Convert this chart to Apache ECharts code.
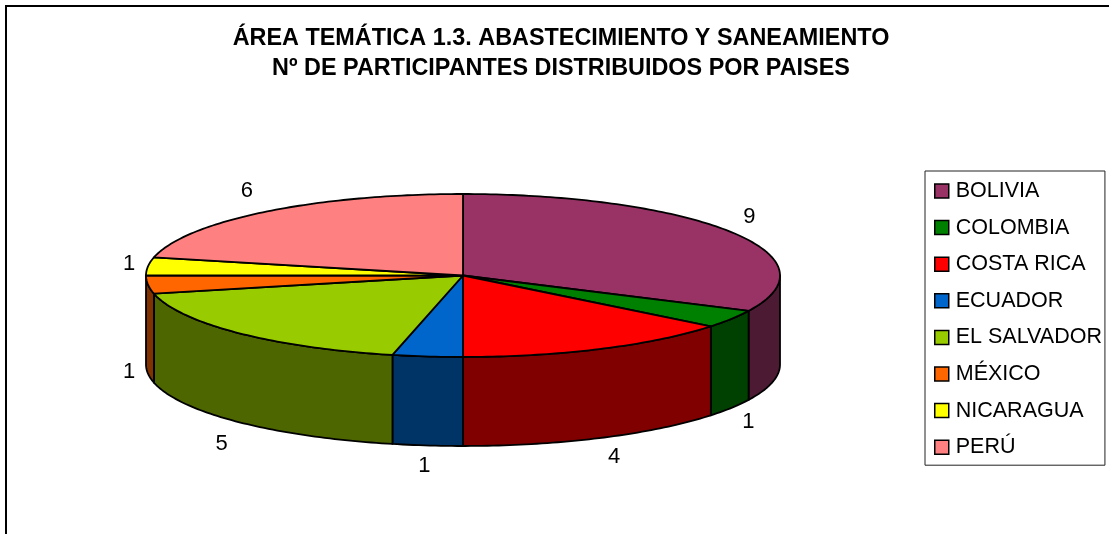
<!DOCTYPE html>
<html>
<head>
<meta charset="utf-8">
<style>
    html, body {margin: 0; padding: 0; background: #fff;}
    #pieChart {width: 1109px; height: 534px;}
</style>
<script src="https://cdn.jsdelivr.net/npm/echarts@6/dist/echarts.min.js"></script>
</head>
<body>
<div id="pieChart"></div>
<script>
    var countries = ['BOLIVIA', 'COLOMBIA', 'COSTA RICA', 'ECUADOR', 'EL SALVADOR', 'MÉXICO', 'NICARAGUA', 'PERÚ'];
    var participants = [9, 1, 4, 1, 5, 1, 1, 6];
    var topColors = ['#993366', '#008000', '#FF0000', '#0066CC', '#99CC00', '#FF6600', '#FFFF00', '#FF8080'];
    var sideColors = ['#4D1A33', '#004000', '#800000', '#003366', '#4D6600', '#803300', '#808000', '#804040'];
    var titleLines = ['ÁREA TEMÁTICA 1.3. ABASTECIMIENTO Y SANEAMIENTO', 'Nº DE PARTICIPANTES DISTRIBUIDOS POR PAISES'];

    // tilted disc
    var cx = 463, cy = 275.5, rx = 317, ry = 81.5, depth = 89;
    // small hand corrections for the value labels
    var labelShift = [[1, -3], [0, 2], [5, -1], [-1, -1], [-3, 6], [1, -4], [1, 0], [-6, -4]];
    var total = participants.reduce(function (a, b) { return a + b; }, 0);

    function rimPoint(deg, dy) {
        var t = deg * Math.PI / 180;
        return [cx + rx * Math.sin(t), cy - ry * Math.cos(t) + (dy || 0)];
    }

    function arc(from, to, dy) {
        var pts = [];
        for (var d = from; d < to; d += 1) {
            pts.push(rimPoint(d, dy));
        }
        pts.push(rimPoint(to, dy));
        return pts;
    }

    function renderSlice(index) {
        var before = participants.slice(0, index).reduce(function (a, b) { return a + b; }, 0);
        return function (params, api) {
            var value = api.value(0);
            var start = before / total * 360;
            var end = (before + value) / total * 360;
            var mid = (start + end) / 2;
            var lineStyle = {stroke: '#000', lineWidth: 1.8, lineJoin: 'round'};
            var children = [];

            // only the front half of the wall shows
            var wallFrom = Math.max(start, 90), wallTo = Math.min(end, 270);
            if (wallFrom < wallTo) {
                var upper = arc(wallFrom, wallTo, 0);
                var lower = arc(wallFrom, wallTo, depth).reverse();
                children.push({
                    type: 'polygon',
                    shape: {points: upper.concat(lower)},
                    style: Object.assign({fill: sideColors[index]}, lineStyle)
                });
            }

            children.push({
                type: 'polygon',
                shape: {points: [[cx, cy]].concat(arc(start, end, 0))},
                style: Object.assign({fill: topColors[index]}, lineStyle)
            });

            var t = mid * Math.PI / 180;
            var front = mid > 90 && mid < 270;
            children.push({
                type: 'text',
                style: {
                    text: String(value),
                    x: cx + (rx + 20) * Math.sin(t) + labelShift[index][0],
                    y: cy - (ry + 22) * Math.cos(t) + (front ? depth : 0) + labelShift[index][1],
                    align: 'center',
                    verticalAlign: 'middle',
                    fill: '#000',
                    font: '22px "Liberation Sans", Arial, sans-serif'
                }
            });
            return {type: 'group', children: children};
        };
    }

    var pieChart = echarts.init(document.getElementById('pieChart'));
    pieChart.setOption({
        animation: false,
        backgroundColor: '#fff',
        title: {
            text: titleLines.join('\n'),
            left: 556,
            top: 19,
            textAlign: 'center',
            textStyle: {
                fontFamily: '"Liberation Sans", Arial, sans-serif',
                fontWeight: 'bold',
                fontSize: 23.4,
                lineHeight: 30,
                color: '#000'
            }
        },
        legend: {
            orient: 'vertical',
            left: 925,
            top: 171,
            padding: [9, 3, 7, 9],
            itemWidth: 14,
            itemHeight: 14,
            itemGap: 14.6,
            icon: 'rect',
            backgroundColor: '#fff',
            borderColor: '#222',
            borderWidth: 1,
            borderRadius: 0,
            itemStyle: {borderColor: '#000', borderWidth: 1.5},
            textStyle: {
                fontFamily: '"Liberation Sans", Arial, sans-serif',
                fontSize: 21.5,
                color: '#000',
                padding: [0, 0, 0, 2]
            },
            data: countries
        },
        graphic: [{
            type: 'polyline',
            silent: true,
            shape: {points: [[6, 534], [6, 6], [1109, 6]]},
            style: {stroke: '#000', lineWidth: 2, fill: null}
        }],
        series: countries.map(function (name, i) {
            return {
                name: name,
                type: 'custom',
                coordinateSystem: 'none',
                silent: true,
                clip: false,
                itemStyle: {color: topColors[i]},
                data: [[participants[i]]],
                renderItem: renderSlice(i)
            };
        })
    });
</script>
</body>
</html>
